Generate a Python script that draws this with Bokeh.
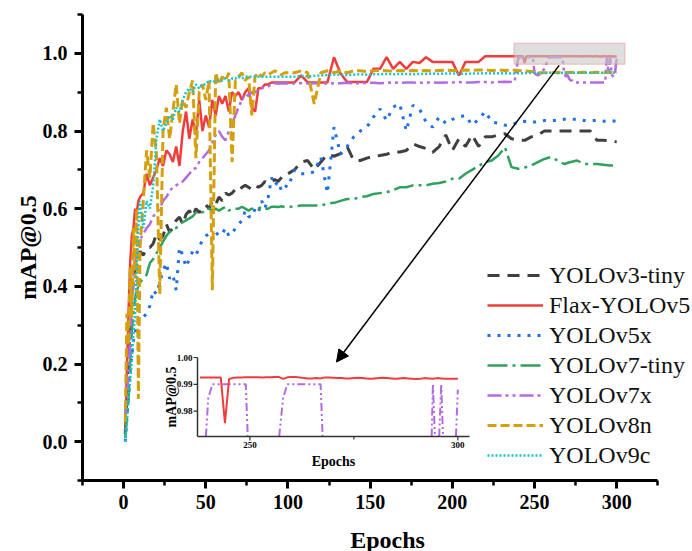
import math
from bokeh.plotting import figure
from bokeh.models import (FixedTicker, Legend, LegendItem, Arrow, NormalHead,
                          BoxAnnotation, Range1d, PrintfTickFormatter)
from bokeh.core.properties import value
from bokeh.embed import file_html
from bokeh.resources import INLINE

# ---------------- data ----------------
EPOCHS = list(range(1, 11)) + list(range(12, 101, 2)) + list(range(104, 301, 4))
N_TO_236 = 89                      # coarse points up to epoch 236
FINE_EPOCHS = list(range(237, 301))

yolov3_tiny = [
    0.02, 0.12, 0.22, 0.30, 0.36, 0.42, 0.45, 0.47, 0.48, 0.49,
    0.48, 0.50, 0.50, 0.51, 0.535, 0.52, 0.53, 0.56, 0.54, 0.55,
    0.57, 0.578, 0.56, 0.585, 0.595, 0.58, 0.60, 0.59, 0.60, 0.61,
    0.60, 0.62, 0.61, 0.63, 0.62, 0.64, 0.635, 0.64, 0.65, 0.645,
    0.655, 0.66, 0.655, 0.65, 0.66, 0.655, 0.66, 0.67, 0.665, 0.67,
    0.675, 0.67, 0.68, 0.69, 0.69,
    0.70, 0.72, 0.724, 0.70, 0.72, 0.74, 0.735, 0.742, 0.76, 0.724,
    0.724, 0.73, 0.735, 0.737, 0.74, 0.746, 0.746, 0.75, 0.767, 0.76,
    0.755, 0.745, 0.76, 0.79, 0.75, 0.78, 0.76, 0.79, 0.76, 0.785,
    0.785, 0.79, 0.793, 0.78,
    0.776, 0.776, 0.785, 0.79, 0.80, 0.80, 0.80, 0.80, 0.80, 0.80,
    0.80, 0.80, 0.776, 0.776, 0.775, 0.772,
]

flax_coarse = [
    0.03, 0.18, 0.33, 0.46, 0.53, 0.55, 0.60, 0.59, 0.62, 0.63,
    0.64, 0.69, 0.66, 0.68, 0.70, 0.73, 0.71, 0.75, 0.74, 0.72,
    0.76, 0.71, 0.80, 0.85, 0.78, 0.83, 0.79, 0.88, 0.80, 0.84,
    0.81, 0.88, 0.84, 0.89, 0.87, 0.89, 0.85, 0.90, 0.89, 0.90,
    0.88, 0.90, 0.91, 0.86, 0.85, 0.91, 0.91, 0.92, 0.92, 0.925,
    0.925, 0.925, 0.925, 0.925, 0.925,
    0.925, 0.943, 0.925, 0.925, 0.925, 0.925, 0.99, 0.948, 0.926, 0.926,
    0.926, 0.926, 0.96, 0.96, 0.99, 0.96, 0.978, 0.96, 0.978, 0.975,
    0.99, 0.978, 0.978, 0.978, 0.978, 0.943, 0.978, 0.978, 0.978, 0.9925,
    0.9925, 0.9925, 0.9925, 0.9925,
]
flax_fine = [
    0.9925, 0.9925, 0.9925, 0.9925, 0.9925, 0.9925, 0.9925,
    0.9755,
    0.9920,
    0.9924, 0.9925, 0.9925, 0.9926, 0.9926, 0.9926, 0.9926, 0.9925, 0.9926, 0.9926, 0.9927,
    0.9927, 0.9920, 0.9926, 0.9927, 0.9927, 0.9925, 0.9923, 0.9922, 0.9922, 0.9923, 0.9922, 0.9925,
    0.9925, 0.9924, 0.9923, 0.9923, 0.9922, 0.9922, 0.9923, 0.9924, 0.9923, 0.9922, 0.9921, 0.9922,
    0.9923, 0.9924, 0.9923, 0.9922, 0.9921, 0.9922, 0.9923, 0.9922, 0.9921, 0.9920, 0.9921, 0.9923,
    0.9922, 0.9921, 0.9923, 0.9922, 0.9921, 0.9921, 0.9921, 0.9921,
]

yolov5x = [
    0.0, 0.06, 0.11, 0.18, 0.22, 0.26, 0.28, 0.30, 0.31, 0.32,
    0.32, 0.33, 0.35, 0.39, 0.38, 0.41, 0.44, 0.46, 0.42, 0.43,
    0.39, 0.50, 0.48, 0.45, 0.47, 0.49, 0.48, 0.50, 0.52, 0.53,
    0.535, 0.52, 0.54, 0.53, 0.535, 0.55, 0.53, 0.535, 0.55, 0.56,
    0.57, 0.595, 0.58, 0.578, 0.60, 0.59, 0.62, 0.60, 0.63, 0.68,
    0.66, 0.67, 0.647, 0.66, 0.655,
    0.70, 0.69, 0.69, 0.695, 0.733, 0.64, 0.81, 0.74, 0.76, 0.785,
    0.80, 0.81, 0.836, 0.857, 0.827, 0.862, 0.87, 0.80, 0.866, 0.857,
    0.823, 0.81, 0.836, 0.82, 0.83, 0.836, 0.84, 0.815, 0.83, 0.85,
    0.823, 0.82, 0.815, 0.815,
    0.823, 0.825, 0.823, 0.823, 0.827, 0.827, 0.827, 0.83, 0.83, 0.83,
    0.827, 0.827, 0.827, 0.825, 0.827, 0.825,
]

yolov7_tiny = [
    0.01, 0.06, 0.11, 0.20, 0.285, 0.33, 0.37, 0.39, 0.40, 0.41,
    0.42, 0.43, 0.46, 0.47, 0.485, 0.50, 0.515, 0.53, 0.54, 0.55,
    0.55, 0.56, 0.565, 0.57, 0.575, 0.58, 0.59, 0.595, 0.59, 0.60,
    0.60, 0.595, 0.60, 0.595, 0.60, 0.605, 0.595, 0.60, 0.60, 0.60,
    0.605, 0.60, 0.595, 0.60, 0.60, 0.60, 0.605, 0.60, 0.60, 0.605,
    0.605, 0.604, 0.606, 0.604, 0.604,
    0.606, 0.608, 0.608, 0.608, 0.608, 0.613, 0.615, 0.62, 0.625, 0.625,
    0.63, 0.632, 0.638, 0.64, 0.642, 0.648, 0.655, 0.655, 0.66, 0.66,
    0.66, 0.664, 0.666, 0.67, 0.677, 0.677, 0.69, 0.70, 0.71, 0.72,
    0.724, 0.737, 0.758, 0.707,
    0.703, 0.706, 0.711, 0.72, 0.728, 0.733, 0.724, 0.715, 0.72, 0.724,
    0.715, 0.715, 0.715, 0.713, 0.711, 0.711,
]

yolov7x_coarse = [
    0.05, 0.12, 0.18, 0.26, 0.35, 0.43, 0.46, 0.49, 0.51, 0.52,
    0.535, 0.55, 0.56, 0.58, 0.59, 0.60, 0.62, 0.63, 0.645, 0.655,
    0.66, 0.665, 0.67, 0.68, 0.69, 0.70, 0.705, 0.72, 0.73, 0.74,
    0.75, 0.77, 0.79, 0.80, 0.785, 0.776, 0.80, 0.82, 0.84, 0.862,
    0.88, 0.896, 0.89, 0.90, 0.90, 0.905, 0.91, 0.913, 0.915, 0.92,
    0.923, 0.922, 0.922, 0.923, 0.922,
    0.922, 0.923, 0.922, 0.923, 0.923, 0.922, 0.923, 0.923, 0.924, 0.923,
    0.923, 0.924, 0.924, 0.923, 0.924, 0.925, 0.924, 0.925, 0.925, 0.924,
    0.925, 0.925, 0.924, 0.925, 0.925, 0.926, 0.925, 0.925, 0.926, 0.926,
    0.925, 0.926, 0.927, 0.926,
]
yolov7x_fine = [
    0.925, 0.93, 0.96, 0.985, 0.99, 0.99, 0.99, 0.99, 0.99, 0.99, 0.99, 0.99, 0.99,
    0.95, 0.945, 0.943, 0.945, 0.95, 0.955, 0.96, 0.97, 0.985,
    0.99, 0.99, 0.99, 0.99, 0.99, 0.99, 0.99, 0.99, 0.99,
    0.95, 0.94, 0.945, 0.935, 0.93, 0.93, 0.925,
    0.925, 0.925, 0.925, 0.925, 0.925, 0.925, 0.925, 0.925, 0.925, 0.925,
    0.925, 0.925, 0.925, 0.925, 0.925, 0.925, 0.925, 0.925, 0.925,
    0.99, 0.95, 0.99, 0.945, 0.94, 0.95, 0.988,
]

yolov8n = [
    0.05, 0.33, 0.25, 0.45, 0.32, 0.55, 0.42, 0.60, 0.11, 0.50,
    0.62, 0.75, 0.68, 0.82, 0.74, 0.38, 0.80, 0.86, 0.78, 0.85,
    0.92, 0.82, 0.88, 0.86, 0.90, 0.93, 0.73, 0.90, 0.92, 0.88,
    0.93, 0.39, 0.95, 0.92, 0.94, 0.93, 0.95, 0.72, 0.93, 0.94,
    0.95, 0.93, 0.94, 0.84, 0.94, 0.95, 0.94, 0.95, 0.945, 0.95,
    0.955, 0.95, 0.945, 0.95, 0.95,
    0.95, 0.955, 0.95, 0.87, 0.95, 0.955, 0.95, 0.955, 0.95, 0.955,
    0.955, 0.953, 0.955, 0.956, 0.955, 0.954, 0.956, 0.955, 0.956, 0.955,
    0.956, 0.955, 0.956, 0.957, 0.956, 0.956, 0.957, 0.956, 0.957, 0.957,
    0.956, 0.957, 0.956, 0.957,
    0.956, 0.955, 0.953, 0.95, 0.95, 0.95, 0.951, 0.95, 0.951, 0.95,
    0.951, 0.95, 0.951, 0.95, 0.951, 0.95,
]

yolov9c = [
    0.0, 0.05, 0.11, 0.16, 0.21, 0.28, 0.33, 0.45, 0.55, 0.62,
    0.55, 0.62, 0.60, 0.66, 0.78, 0.83, 0.80, 0.82, 0.84, 0.83,
    0.86, 0.85, 0.88, 0.90, 0.91, 0.90, 0.92, 0.91, 0.92, 0.92,
    0.93, 0.925, 0.93, 0.93, 0.93, 0.935, 0.93, 0.935, 0.935, 0.94,
    0.935, 0.94, 0.94, 0.94, 0.94, 0.94, 0.94, 0.94, 0.94, 0.94,
    0.94, 0.94, 0.94, 0.94, 0.94,
    0.94, 0.942, 0.94, 0.942, 0.943, 0.944, 0.945, 0.945, 0.944, 0.945,
    0.946, 0.945, 0.946, 0.946, 0.947, 0.946, 0.947, 0.947, 0.946, 0.947,
    0.947, 0.948, 0.947, 0.948, 0.948, 0.948, 0.947, 0.948, 0.948, 0.949,
    0.948, 0.949, 0.949, 0.948,
    0.949, 0.949, 0.95, 0.949, 0.95, 0.95, 0.949, 0.95, 0.95, 0.95,
    0.95, 0.95, 0.95, 0.95, 0.951, 0.95,
]

X_TICKS = [0, 50, 100, 150, 200, 250, 300]
X_MINOR = [-25, 25, 75, 125, 175, 225, 275, 325]
X_AXIS_BOUNDS = (-25, 325)
Y_TICKS = [0.0, 0.2, 0.4, 0.6, 0.8, 1.0]
Y_MINOR = [-0.1, 0.1, 0.3, 0.5, 0.7, 0.9, 1.1]
Y_VIEW = (-0.1, 1.1)
INSET_X = (237.4, 302.8)
INSET_Y = (0.9705, 1.0)
INSET_X_TICKS = [250, 300]
INSET_X_MINOR = [275]
INSET_Y_TICKS = [0.98, 0.99, 1.00]
ZOOM_BOX = dict(left=237.5, right=305, bottom=0.972, top=1.026)
ARROW = dict(x_start=265, y_start=0.969, x_end=129.5, y_end=0.205)

SERIF = "Liberation Serif"

# ---------------- layout (pixels) ----------------
W, H = 692, 562
FRAME = dict(left=82, right=692, top=14, bottom=480)
AXIS_RIGHT_PX = 657.3                       # where the x-axis ends (x = 325)
INSET_PX = dict(left=197, right=469, top=357, bottom=436)

x_ppu = (AXIS_RIGHT_PX - FRAME["left"]) / (X_AXIS_BOUNDS[1] - X_AXIS_BOUNDS[0])
X_VIEW = (X_AXIS_BOUNDS[0],
          X_AXIS_BOUNDS[0] + (FRAME["right"] - FRAME["left"]) / x_ppu)

ix_ppu = (INSET_PX["right"] - INSET_PX["left"]) / (INSET_X[1] - INSET_X[0])
iy_ppu = (INSET_PX["bottom"] - INSET_PX["top"]) / (INSET_Y[1] - INSET_Y[0])
IX_RANGE = (INSET_X[0] - (INSET_PX["left"] - FRAME["left"]) / ix_ppu,
            INSET_X[0] + (FRAME["right"] - INSET_PX["left"]) / ix_ppu)
IY_RANGE = (INSET_Y[0] - (FRAME["bottom"] - INSET_PX["bottom"]) / iy_ppu,
            INSET_Y[1] + (INSET_PX["top"] - FRAME["top"]) / iy_ppu)

# ---------------- main figure ----------------
p = figure(width=W, height=H, output_backend="svg", toolbar_location=None,
           x_range=Range1d(*X_VIEW), y_range=Range1d(*Y_VIEW),
           min_border_left=FRAME["left"], min_border_right=W - FRAME["right"],
           min_border_top=FRAME["top"], min_border_bottom=H - FRAME["bottom"])
p.extra_x_ranges = {"ix": Range1d(*IX_RANGE)}
p.extra_y_ranges = {"iy": Range1d(*IY_RANGE)}
p.outline_line_color = None
p.grid.visible = False

for ax in (p.xaxis[0], p.yaxis[0]):
    ax.axis_line_width = 3
    ax.axis_line_color = "black"
    ax.major_tick_line_width = 3
    ax.minor_tick_line_width = 2.5
    ax.major_tick_out = 8
    ax.major_tick_in = 0
    ax.minor_tick_out = 5
    ax.minor_tick_in = 0
    ax.major_label_text_font = SERIF
    ax.major_label_text_font_style = "bold"
    ax.major_label_text_font_size = "20px"
    ax.major_label_text_color = "black"
    ax.axis_label_text_font = SERIF
    ax.axis_label_text_font_style = "bold"
    ax.axis_label_text_font_size = "24px"
    ax.axis_label_text_color = "black"

p.xaxis.ticker = FixedTicker(ticks=X_TICKS, minor_ticks=X_MINOR)
p.xaxis.bounds = X_AXIS_BOUNDS
p.yaxis.ticker = FixedTicker(ticks=Y_TICKS, minor_ticks=Y_MINOR)
p.yaxis.formatter = PrintfTickFormatter(format="%.1f")
p.xaxis.axis_label = "Epochs"
p.yaxis.axis_label = "mAP@0.5"
p.xaxis.major_label_standoff = 6
p.xaxis.axis_label_standoff = 15
p.yaxis.major_label_standoff = 7
p.yaxis.axis_label_standoff = -1

x_red = EPOCHS[:N_TO_236] + FINE_EPOCHS
y_red = flax_coarse + flax_fine
x_pur = EPOCHS[:N_TO_236] + FINE_EPOCHS
y_pur = yolov7x_coarse + yolov7x_fine

RED, PURPLE = "#F03C3C", "#B36BE3"
series = [
    ("YOLOv3-tiny", EPOCHS, yolov3_tiny, "#404040", "12 8", 3),
    ("Flax-YOLOv5", x_red, y_red, RED, "solid", 2.5),
    ("YOLOv5x", EPOCHS, yolov5x, "#1E6FE8", "3 7", 3),
    ("YOLOv7-tiny", EPOCHS, yolov7_tiny, "#2EA25C", "20 5 3 5", 2.5),
    ("YOLOv7x", x_pur, y_pur, PURPLE, "14 4 3 4 3 4", 2.5),
    ("YOLOv8n", EPOCHS, yolov8n, "#D4A010", "9 4", 3),
    ("YOLOv9c", EPOCHS, yolov9c, "#17C5CC", "2 2", 2.5),
]

items = []
for name, xs, ys, color, dash, lw in series:
    r = p.line(xs, ys, line_color=color, line_dash=dash, line_width=lw)
    items.append(LegendItem(label=name, renderers=[r]))

legend = Legend(items=items, location=(405, 10), label_text_font=SERIF,
                label_text_font_size="24px", label_text_color="#111111",
                glyph_width=56, glyph_height=30, label_height=30, spacing=0,
                padding=0, margin=0, label_standoff=6,
                border_line_color=None, background_fill_alpha=0)
p.add_layout(legend)

p.add_layout(BoxAnnotation(fill_color="#c8c8c8", fill_alpha=0.6,
                           line_color="#F07070", line_width=1.5, **ZOOM_BOX))

# ---------------- inset (zoom on epochs 237-303) ----------------
def clip_below(xs, ys, ymin):
    """Cut a polyline where it leaves the inset's bottom edge."""
    ox, oy = [], []
    for i, (x, y) in enumerate(zip(xs, ys)):
        if i > 0:
            x0, y0 = xs[i - 1], ys[i - 1]
            if (y0 < ymin) != (y < ymin):
                t = (ymin - y0) / (y - y0)
                ox.append(x0 + t * (x - x0))
                oy.append(ymin)
                if y < ymin:
                    ox.append(math.nan)
                    oy.append(math.nan)
        if y >= ymin:
            ox.append(x)
            oy.append(y)
    return ox, oy

ins = dict(x_range_name="ix", y_range_name="iy")
ix_fine = FINE_EPOCHS[1:]
px, py = clip_below(ix_fine, yolov7x_fine[1:], INSET_Y[0])
p.line(px, py, line_color=PURPLE, line_dash="8 3 2 3 2 3", line_width=2, **ins)
p.line(ix_fine, flax_fine[1:], line_color=RED, line_width=2, **ins)

AX_COL = "#333333"
x0i, y0i = INSET_X[0], INSET_Y[0]
p.segment(x0=[x0i, x0i], y0=[y0i, y0i], x1=[INSET_X[1], x0i], y1=[y0i, INSET_Y[1]],
          line_color=AX_COL, line_width=1.5, **ins)
# ticks
p.segment(x0=INSET_X_TICKS, y0=[y0i] * len(INSET_X_TICKS), x1=INSET_X_TICKS,
          y1=[y0i - 4 / iy_ppu] * len(INSET_X_TICKS), line_color=AX_COL, line_width=1.2, **ins)
p.segment(x0=INSET_X_MINOR, y0=[y0i] * len(INSET_X_MINOR), x1=INSET_X_MINOR,
          y1=[y0i - 3 / iy_ppu] * len(INSET_X_MINOR), line_color=AX_COL, line_width=1.2, **ins)
p.segment(x0=[x0i] * len(INSET_Y_TICKS), y0=INSET_Y_TICKS, x1=[x0i - 4 / ix_ppu] * len(INSET_Y_TICKS),
          y1=INSET_Y_TICKS, line_color=AX_COL, line_width=1.2, **ins)
# tick labels
p.text(x=INSET_X_TICKS, y=[y0i - 5 / iy_ppu] * len(INSET_X_TICKS),
       text=[str(t) for t in INSET_X_TICKS], text_font=value(SERIF),
       text_font_style="bold", text_font_size="9px", text_color="black",
       text_align="center", text_baseline="top", **ins)
p.text(x=[x0i - 5 / ix_ppu] * len(INSET_Y_TICKS), y=INSET_Y_TICKS,
       text=["%.2f" % t for t in INSET_Y_TICKS], text_font=value(SERIF),
       text_font_style="bold", text_font_size="9px", text_color="black",
       text_align="right", text_baseline="middle", **ins)
# axis labels
p.text(x=[(INSET_X[0] + INSET_X[1]) / 2], y=[y0i - 25 / iy_ppu], text=["Epochs"],
       text_font=value(SERIF), text_font_style="bold", text_font_size="14px",
       text_color="black", text_align="center", text_baseline="middle", **ins)
p.text(x=[x0i - 26 / ix_ppu], y=[(INSET_Y[0] + INSET_Y[1]) / 2], text=["mAP@0.5"],
       angle=math.pi / 2, text_font=value(SERIF), text_font_style="bold",
       text_font_size="14px", text_color="black", text_align="center",
       text_baseline="middle", **ins)

p.add_layout(Arrow(end=NormalHead(size=12, fill_color="black", line_color="black"),
                   line_width=1.5, line_color="black", **ARROW))

open("out.html", "w").write(file_html(p, INLINE))
